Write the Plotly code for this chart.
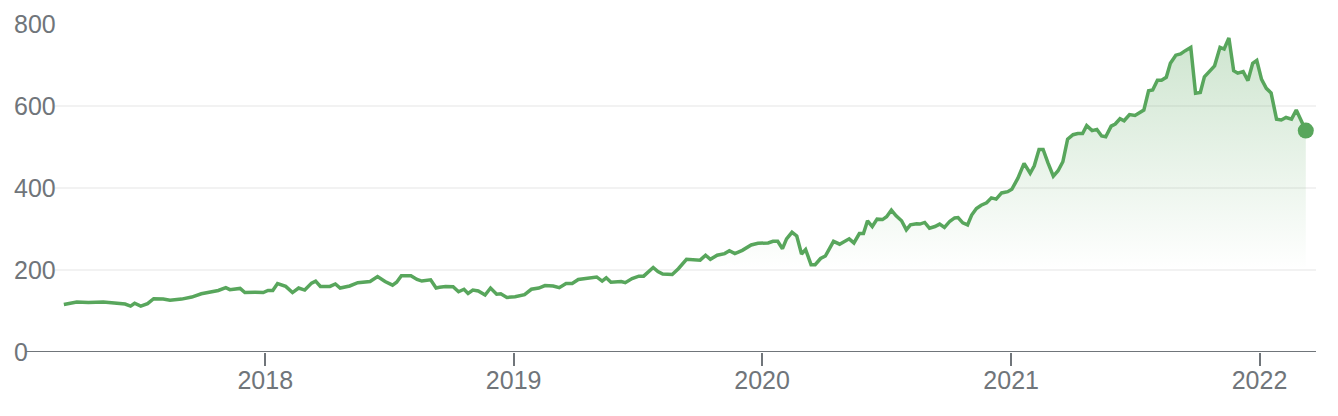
import plotly.graph_objects as go

dates = [
    "2017-03-11", "2017-03-30", "2017-04-16", "2017-05-08", "2017-06-09", "2017-06-17", "2017-06-23",
    "2017-07-02", "2017-07-12", "2017-07-21", "2017-08-04", "2017-08-14", "2017-08-31", "2017-09-15",
    "2017-09-29", "2017-10-14", "2017-10-24", "2017-11-04", "2017-11-10", "2017-11-25", "2017-12-02",
    "2017-12-17", "2017-12-29",
    "2018-01-05", "2018-01-12", "2018-01-19", "2018-01-31", "2018-02-10", "2018-02-19", "2018-02-28",
    "2018-03-10", "2018-03-16", "2018-03-23", "2018-04-06", "2018-04-14", "2018-04-21", "2018-05-05",
    "2018-05-17", "2018-06-04", "2018-06-15", "2018-06-26", "2018-07-07", "2018-07-13", "2018-07-20",
    "2018-08-03", "2018-08-12", "2018-08-19", "2018-09-01", "2018-09-09", "2018-09-14", "2018-09-23",
    "2018-10-04", "2018-10-12", "2018-10-20", "2018-10-26", "2018-11-02", "2018-11-10", "2018-11-20",
    "2018-11-28", "2018-12-07", "2018-12-13", "2018-12-22",
    "2019-01-03", "2019-01-17", "2019-01-27", "2019-02-07", "2019-02-16", "2019-02-28", "2019-03-09",
    "2019-03-19", "2019-03-28", "2019-04-06", "2019-04-18", "2019-05-03", "2019-05-11", "2019-05-17",
    "2019-05-24", "2019-06-08", "2019-06-14", "2019-06-24", "2019-07-04", "2019-07-11", "2019-07-25",
    "2019-08-01", "2019-08-08", "2019-08-22", "2019-08-31", "2019-09-12", "2019-10-02", "2019-10-10",
    "2019-10-17", "2019-10-27", "2019-11-07", "2019-11-14", "2019-11-22", "2019-12-03", "2019-12-16",
    "2019-12-26",
    "2020-01-10", "2020-01-17", "2020-01-24", "2020-01-31", "2020-02-06", "2020-02-14", "2020-02-21",
    "2020-02-28", "2020-03-05", "2020-03-13", "2020-03-19", "2020-03-27", "2020-04-03", "2020-04-15",
    "2020-04-24", "2020-05-02", "2020-05-08", "2020-05-15", "2020-05-23", "2020-05-29", "2020-06-04",
    "2020-06-11", "2020-06-18", "2020-06-26", "2020-07-02", "2020-07-09", "2020-07-16", "2020-07-24",
    "2020-07-31", "2020-08-06", "2020-08-15", "2020-08-20", "2020-08-27", "2020-09-03", "2020-09-11",
    "2020-09-18", "2020-09-25", "2020-10-03", "2020-10-10", "2020-10-15", "2020-10-22", "2020-10-29",
    "2020-11-04", "2020-11-11", "2020-11-18", "2020-11-26", "2020-12-03", "2020-12-10", "2020-12-18",
    "2020-12-27",
    "2021-01-02", "2021-01-11", "2021-01-20", "2021-01-29", "2021-02-04", "2021-02-11", "2021-02-17",
    "2021-02-24", "2021-03-04", "2021-03-11", "2021-03-18", "2021-03-25", "2021-04-02", "2021-04-09",
    "2021-04-16", "2021-04-22", "2021-04-30", "2021-05-07", "2021-05-14", "2021-05-20", "2021-05-28",
    "2021-06-03", "2021-06-10", "2021-06-16", "2021-06-24", "2021-07-02", "2021-07-09", "2021-07-15",
    "2021-07-22", "2021-07-28", "2021-08-04", "2021-08-10", "2021-08-17", "2021-08-23", "2021-08-31",
    "2021-09-07", "2021-09-14", "2021-09-22", "2021-09-29", "2021-10-06", "2021-10-12", "2021-10-20",
    "2021-10-27", "2021-11-04", "2021-11-10", "2021-11-17", "2021-11-24", "2021-11-30", "2021-12-08",
    "2021-12-15", "2021-12-22", "2021-12-28",
    "2022-01-04", "2022-01-11", "2022-01-18", "2022-01-26", "2022-02-02", "2022-02-09", "2022-02-17",
    "2022-02-24", "2022-03-10",
]

prices = [
    116, 122, 121, 122, 117, 112, 119,
    112, 118, 130, 129, 126, 129, 134,
    142, 148, 150, 157, 152, 155, 145,
    146, 145,
    150, 150, 167, 160, 145, 156, 151,
    168, 173, 160, 160, 166, 156, 161,
    169, 172, 184, 172, 163, 170, 186,
    186, 177, 173, 176, 156, 158, 160,
    159, 147, 153, 143, 151, 149, 139,
    156, 141, 142, 133,
    135, 140, 153, 156, 162, 161, 157,
    167, 167, 177, 179, 183, 173, 181,
    170, 172, 169, 179, 185, 185, 206,
    196, 190, 189, 203, 226, 224, 236,
    226, 236, 240, 247, 240, 248, 261,
    265,
    266, 270, 270, 252, 276, 292, 283,
    239, 250, 213, 213, 228, 234, 270,
    263, 270, 276, 266, 289, 289, 320,
    306, 324, 323, 330, 346, 332, 320,
    298, 310, 313, 312, 316, 302, 306,
    312, 304, 319, 327, 328, 315, 310,
    334, 350, 358, 364, 376, 373, 388,
    391,
    397, 424, 460, 436, 454, 494, 494,
    462, 429, 442, 464, 519, 530, 533,
    533, 552, 540, 543, 527, 525, 551,
    556, 569, 564, 579, 577, 584, 590,
    637, 639, 663, 663, 670, 704, 724,
    727, 735, 743, 631, 633, 671, 686,
    698, 743, 739, 766, 686, 680, 684,
    662, 704, 711,
    665, 643, 632, 568, 566, 572, 568,
    590, 540,
]

year_ticks = ["2018-01-01", "2019-01-01", "2020-01-01", "2021-01-01", "2022-01-01"]
y_ticks = [0, 200, 400, 600, 800]

GREEN = "#58a65c"
GREY = "#70757a"
FONT = "Liberation Sans, Arial, sans-serif"

# The page body has an 8px default margin, so the figure is sized/margined
# so that the plot area lands at x 55..1316, y 24..352 in the window.
OFF = 8
W, H = 1338 - OFF, 416 - OFF
L, R, T, B = 55 - OFF, 22, 24 - OFF, 64
plot_w = W - L - R

fig = go.Figure()

fig.add_trace(go.Scatter(
    x=dates, y=prices, mode="lines",
    line=dict(color=GREEN, width=3.5),
    fill="tozeroy",
    fillgradient=dict(
        type="vertical",
        colorscale=[[0, "rgba(88,166,92,0)"], [1, "rgba(88,166,92,0.30)"]],
        start=200, stop=780,
    ),
    hoverinfo="skip", showlegend=False,
))

fig.add_trace(go.Scatter(
    x=[dates[-1]], y=[prices[-1]], mode="markers",
    marker=dict(color=GREEN, size=16),
    hoverinfo="skip", showlegend=False,
))

# zero baseline extending under the "0" label
fig.add_shape(type="line", xref="paper", yref="y",
              x0=(26 - 55) / plot_w, x1=1, y0=0, y1=0,
              line=dict(color=GREY, width=2), layer="above")

for v in y_ticks:
    fig.add_annotation(
        xref="paper", yref="y", x=(12 - 55) / plot_w, y=v,
        text=str(v), showarrow=False, xanchor="left", yanchor="middle",
        font=dict(family=FONT, size=25, color=GREY),
    )

fig.update_layout(
    width=W, height=H,
    margin=dict(l=L, r=R, t=T, b=B),
    paper_bgcolor="white", plot_bgcolor="white",
    font=dict(family=FONT, size=25, color=GREY),
    showlegend=False,
)

fig.update_xaxes(
    type="date",
    range=["2017-02-26", "2022-03-25"],
    tickvals=year_ticks, tickformat="%Y",
    ticks="outside", ticklen=13, tickwidth=1.5, tickcolor=GREY,
    showgrid=False, showline=False, zeroline=False,
    tickfont=dict(family=FONT, size=25, color=GREY),
    ticklabelstandoff=-7,
)

fig.update_yaxes(
    range=[0, 800], tickvals=y_ticks, showticklabels=False,
    showgrid=True, gridcolor="#f2f2f2", gridwidth=1.5,
    zeroline=False, showline=False, ticks="",
)

fig.write_html("out.html")
